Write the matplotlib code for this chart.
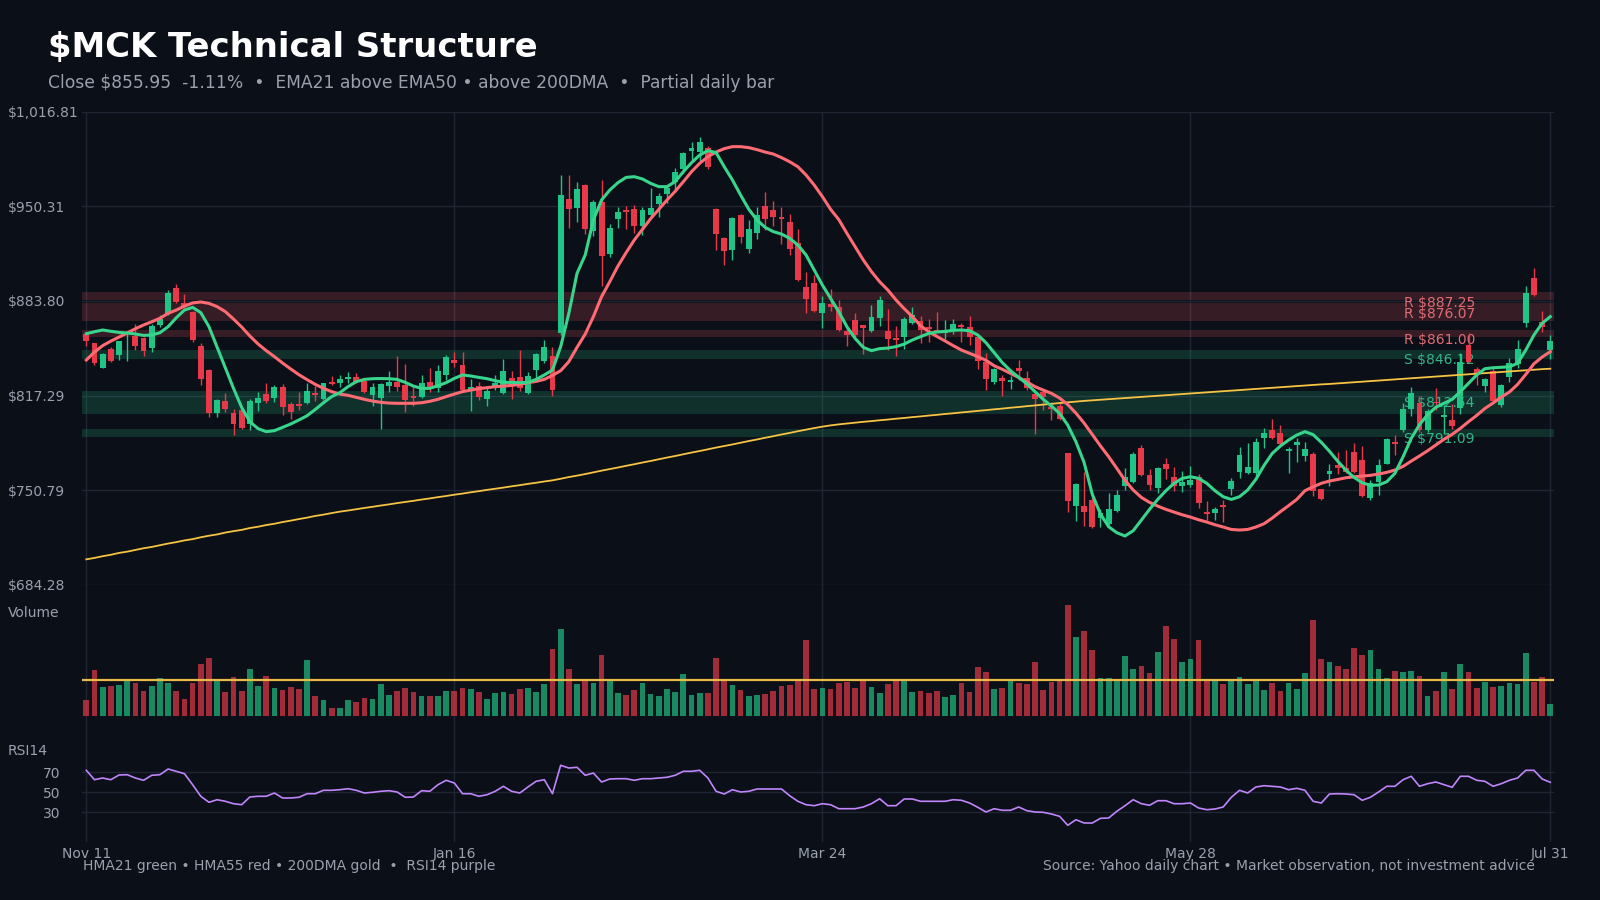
import matplotlib
matplotlib.use("Agg")
import matplotlib.pyplot as plt
import numpy as np

# ---- data ----
open_ = [
    860.6, 854.0, 836.9, 850.0, 845.8, 860.3, 859.4, 857.8, 850.7, 867.2,
    874.9, 892.9, 882.1, 876.3, 852.1, 835.3, 805.1, 813.5, 805.1, 807.2,
    797.3, 812.3, 818.4, 815.8, 823.6, 811.4, 811.4, 812.3, 818.9, 814.7,
    826.8, 825.9, 829.2, 830.4, 827.6, 817.7, 815.6, 824.3, 826.8, 824.8,
    817.0, 816.5, 826.8, 822.4, 831.8, 842.3, 838.8, 821.7, 824.0, 815.1,
    823.6, 818.9, 829.9, 830.6, 819.4, 835.3, 841.8, 845.1, 861.5, 955.4,
    949.3, 965.3, 932.9, 953.3, 916.8, 941.4, 947.7, 948.4, 936.4, 944.2,
    951.9, 958.9, 967.4, 976.5, 989.4, 988.4, 991.0, 948.4, 928.3, 919.6,
    944.2, 920.5, 931.3, 950.5, 947.9, 942.5, 939.2, 924.7, 893.6, 896.4,
    875.6, 881.7, 879.3, 862.9, 870.4, 866.9, 862.9, 872.0, 862.9, 857.8,
    858.7, 868.1, 869.7, 865.5, 863.4, 861.0, 862.9, 866.9, 865.3, 858.2,
    841.1, 827.1, 829.4, 826.8, 836.7, 829.4, 818.4, 820.1, 809.5, 810.0,
    776.7, 739.7, 739.7, 744.0, 731.6, 727.1, 736.5, 753.8, 756.8, 780.2,
    761.5, 752.6, 769.2, 759.9, 753.8, 754.5, 760.4, 735.8, 735.1, 740.4,
    751.5, 763.9, 763.2, 762.7, 787.3, 793.1, 790.8, 778.6, 782.6, 774.9,
    776.3, 751.4, 762.2, 768.6, 766.7, 777.9, 772.0, 745.1, 756.8, 769.3,
    784.7, 793.1, 807.6, 811.9, 793.1, 813.0, 802.5, 800.2, 808.3, 852.8,
    835.8, 824.0, 834.6, 810.7, 830.1, 839.5, 868.5, 899.7, 869.2, 849.3,
]
high = [
    861.0, 854.5, 847.0, 851.7, 855.8, 862.0, 867.6, 858.5, 867.5, 873.9,
    891.5, 895.7, 888.7, 877.0, 854.0, 836.0, 815.0, 818.9, 807.6, 808.0,
    815.0, 820.1, 825.9, 824.8, 825.2, 813.0, 820.1, 825.9, 824.3, 826.5,
    831.1, 831.5, 834.1, 832.9, 828.2, 825.9, 826.1, 834.6, 845.1, 839.5,
    823.6, 831.5, 836.7, 838.8, 845.8, 848.2, 848.2, 828.7, 827.1, 823.6,
    831.5, 843.0, 834.8, 849.3, 833.7, 847.5, 856.4, 851.2, 972.3, 972.3,
    967.4, 965.9, 954.7, 968.8, 937.9, 950.0, 950.5, 951.2, 949.6, 962.9,
    959.4, 965.3, 977.4, 988.7, 995.4, 999.2, 992.6, 949.0, 929.0, 942.5,
    944.9, 940.7, 950.0, 960.6, 954.2, 949.6, 944.9, 934.6, 904.1, 902.0,
    887.3, 892.0, 884.5, 865.7, 875.6, 867.1, 881.0, 887.3, 878.1, 866.2,
    872.8, 879.8, 873.2, 870.9, 876.0, 870.4, 870.9, 868.1, 873.2, 858.7,
    847.0, 836.5, 831.8, 831.1, 842.3, 834.8, 819.0, 821.7, 813.0, 812.3,
    777.2, 756.1, 763.9, 747.5, 737.4, 748.6, 751.0, 766.2, 777.9, 782.6,
    765.5, 767.4, 773.2, 767.4, 764.6, 767.9, 762.2, 743.3, 739.3, 744.0,
    759.2, 781.4, 783.8, 787.3, 794.3, 800.6, 796.6, 781.4, 787.3, 784.9,
    777.9, 752.0, 769.2, 777.9, 779.1, 784.2, 781.9, 758.0, 772.5, 787.3,
    789.6, 811.9, 823.6, 817.0, 807.6, 822.4, 810.7, 811.2, 847.0, 861.0,
    837.2, 829.4, 836.5, 825.4, 843.5, 856.4, 894.3, 906.7, 877.0, 859.9,
]
low = [
    852.1, 838.8, 836.5, 841.1, 842.3, 841.9, 849.3, 845.1, 848.2, 865.8,
    874.0, 882.5, 879.0, 855.2, 824.7, 802.5, 802.5, 806.0, 789.6, 794.0,
    793.1, 806.7, 811.9, 813.0, 803.7, 800.9, 807.2, 811.4, 813.7, 814.2,
    825.0, 823.6, 825.9, 825.9, 818.9, 810.0, 794.1, 820.1, 820.8, 806.0,
    810.0, 815.5, 820.1, 820.0, 828.3, 837.6, 820.8, 806.7, 814.2, 810.0,
    821.0, 818.4, 814.7, 820.8, 818.5, 828.3, 840.0, 817.0, 860.0, 935.3,
    939.2, 931.1, 929.4, 894.5, 914.9, 935.3, 934.3, 931.8, 930.1, 943.0,
    943.0, 952.8, 960.6, 973.4, 982.8, 980.5, 976.2, 919.6, 909.1, 912.6,
    924.7, 917.7, 927.3, 933.6, 936.4, 923.8, 916.3, 898.0, 875.6, 876.3,
    864.6, 877.0, 862.9, 852.1, 858.2, 846.5, 862.2, 866.4, 849.3, 845.1,
    849.8, 867.6, 854.5, 855.2, 862.0, 856.8, 860.6, 855.2, 853.1, 835.8,
    821.3, 825.4, 817.0, 822.2, 828.3, 821.3, 790.3, 807.2, 800.2, 800.2,
    735.8, 729.4, 725.7, 724.0, 724.7, 726.4, 735.8, 751.0, 756.1, 760.8,
    751.0, 749.1, 758.5, 750.5, 749.8, 753.3, 738.1, 729.9, 729.9, 728.7,
    747.5, 759.2, 762.2, 759.2, 780.2, 786.6, 781.9, 762.7, 770.9, 771.6,
    746.8, 743.9, 753.8, 762.2, 762.7, 762.7, 745.8, 743.9, 747.5, 769.0,
    775.6, 792.0, 803.0, 792.0, 792.0, 807.2, 790.3, 793.6, 804.4, 840.4,
    824.7, 820.1, 813.0, 809.5, 827.1, 836.5, 865.3, 887.3, 862.2, 842.8,
]
close = [
    855.9, 840.4, 846.5, 841.8, 855.6, 861.0, 852.1, 848.9, 866.2, 870.9,
    889.4, 883.3, 879.8, 856.4, 829.0, 805.1, 814.2, 807.9, 797.3, 794.8,
    813.5, 815.8, 813.7, 823.6, 809.5, 806.0, 810.0, 820.5, 817.7, 825.9,
    825.4, 828.7, 830.6, 826.8, 820.1, 823.6, 825.4, 826.8, 823.6, 814.2,
    815.6, 825.9, 823.6, 834.6, 844.2, 840.4, 821.3, 823.6, 816.5, 820.8,
    826.1, 834.6, 825.9, 822.4, 831.1, 846.5, 851.2, 821.3, 958.2, 948.4,
    962.4, 934.6, 953.3, 915.4, 935.0, 946.3, 946.3, 936.4, 947.7, 948.9,
    957.5, 962.9, 974.1, 987.7, 991.2, 995.4, 978.1, 931.1, 919.1, 942.1,
    928.5, 934.3, 944.2, 941.1, 943.0, 941.6, 920.1, 898.5, 885.2, 877.0,
    882.4, 879.8, 863.4, 859.9, 859.9, 865.0, 872.3, 884.5, 856.8, 856.4,
    870.9, 873.9, 863.4, 864.1, 862.0, 862.9, 867.6, 865.3, 858.7, 841.8,
    829.0, 836.0, 827.8, 828.2, 834.8, 822.4, 815.1, 816.1, 807.6, 801.1,
    743.5, 755.2, 735.8, 725.2, 734.6, 737.4, 747.5, 760.4, 776.3, 761.5,
    754.5, 766.7, 766.0, 753.8, 756.8, 758.0, 742.1, 734.1, 737.4, 739.3,
    757.3, 775.6, 766.9, 784.9, 790.8, 787.3, 783.3, 779.8, 785.0, 779.5,
    750.5, 744.5, 764.6, 766.7, 763.9, 763.9, 746.8, 755.7, 768.6, 786.6,
    783.3, 807.6, 818.9, 793.1, 806.5, 811.9, 803.7, 796.0, 841.1, 841.1,
    833.0, 828.7, 813.7, 824.8, 840.0, 849.8, 889.1, 888.2, 865.55, 855.95,
]
hma21 = [
    860.8, 862.2, 863.4, 862.5, 861.7, 861.3, 860.6, 859.6, 859.9, 861.5,
    865.7, 872.0, 877.4, 879.3, 875.6, 865.7, 851.2, 836.5, 822.4, 809.0,
    799.0, 794.1, 792.0, 792.7, 795.0, 797.4, 800.2, 803.2, 807.6, 812.3,
    816.6, 819.4, 823.6, 827.1, 828.7, 829.2, 829.3, 829.2, 828.7, 826.6,
    824.0, 822.4, 822.4, 824.3, 826.4, 829.4, 831.8, 831.1, 830.1, 829.2,
    827.8, 826.6, 826.6, 826.4, 826.6, 828.7, 831.8, 835.3, 851.7, 875.1,
    903.2, 916.1, 940.7, 954.7, 961.7, 966.9, 970.6, 971.1, 969.5, 966.4,
    964.1, 964.1, 967.6, 974.6, 980.9, 986.3, 989.4, 988.0, 978.1, 968.8,
    958.2, 948.2, 940.7, 935.5, 932.5, 930.8, 927.8, 923.1, 916.1, 905.5,
    895.0, 885.6, 876.3, 865.7, 857.5, 851.2, 848.9, 850.3, 850.7, 851.7,
    853.5, 856.4, 858.7, 861.0, 862.0, 862.4, 863.2, 863.4, 862.9, 859.9,
    854.5, 847.5, 840.5, 834.8, 830.1, 825.5, 820.1, 814.7, 810.0, 804.8,
    796.6, 784.9, 770.3, 748.0, 734.1, 725.2, 721.0, 718.7, 722.4, 729.9,
    737.4, 744.4, 750.5, 755.7, 759.2, 760.3, 759.2, 755.7, 750.5, 746.3,
    744.4, 746.3, 751.0, 758.5, 768.3, 776.7, 781.9, 786.1, 789.6, 792.0,
    789.9, 784.5, 778.2, 771.3, 765.0, 759.9, 756.1, 754.3, 754.5, 756.8,
    762.7, 774.4, 787.3, 796.9, 803.9, 809.1, 811.9, 814.7, 820.1, 825.9,
    831.8, 836.2, 836.9, 837.2, 837.6, 840.0, 849.3, 859.9, 868.1, 872.8,
]
hma55 = [
    842.3, 847.9, 852.4, 855.6, 858.4, 861.3, 864.3, 866.9, 869.2, 871.6,
    875.1, 877.4, 880.2, 882.4, 883.1, 882.1, 879.8, 876.3, 871.1, 865.5,
    859.2, 853.6, 848.9, 844.7, 840.2, 836.0, 832.0, 828.5, 825.2, 822.4,
    820.1, 818.4, 817.5, 816.1, 814.7, 813.5, 812.6, 812.1, 811.9, 811.9,
    811.9, 812.3, 813.3, 814.7, 816.6, 818.4, 820.1, 821.2, 822.2, 822.9,
    823.6, 824.0, 824.5, 825.2, 826.4, 827.3, 828.7, 831.5, 834.8, 841.2,
    851.2, 860.5, 872.8, 886.8, 897.3, 908.3, 917.7, 926.6, 934.1, 941.6,
    948.2, 954.7, 960.8, 967.6, 974.6, 980.5, 985.1, 988.4, 990.8, 992.2,
    992.2, 991.5, 990.1, 988.4, 987.0, 984.5, 981.6, 978.1, 972.3, 965.2,
    957.1, 948.2, 941.0, 931.3, 921.9, 912.6, 904.4, 897.3, 891.5, 884.5,
    878.4, 872.8, 866.4, 862.2, 858.9, 855.7, 852.4, 849.3, 847.0, 844.7,
    842.1, 838.3, 835.8, 832.9, 830.1, 826.9, 823.6, 821.2, 818.9, 815.6,
    811.0, 805.0, 798.0, 790.0, 782.0, 774.4, 766.2, 757.8, 751.0, 745.8,
    742.3, 739.7, 737.4, 735.5, 733.6, 732.0, 730.1, 728.5, 726.6, 725.0,
    723.3, 722.9, 723.3, 725.0, 727.3, 731.3, 735.8, 740.0, 744.4, 750.5,
    753.3, 755.7, 757.3, 758.4, 759.6, 760.3, 760.8, 761.3, 762.2, 763.4,
    765.0, 767.6, 771.3, 774.9, 778.6, 782.6, 786.6, 790.1, 794.3, 799.0,
    803.4, 808.3, 812.1, 816.3, 819.8, 825.2, 832.2, 839.7, 844.4, 848.2,
]
dma200 = [
    702.3, 703.3, 704.5, 705.5, 706.8, 707.7, 708.9, 710.1, 711.0, 712.2,
    713.4, 714.4, 715.6, 716.5, 717.8, 718.9, 719.8, 721.1, 722.1, 723.0,
    724.3, 725.2, 726.4, 727.3, 728.5, 729.5, 730.6, 731.6, 732.8, 733.7,
    734.8, 735.8, 736.6, 737.5, 738.4, 739.2, 740.1, 740.9, 741.8, 742.6,
    743.4, 744.3, 745.1, 746.0, 746.8, 747.7, 748.5, 749.4, 750.2, 751.1,
    751.9, 752.7, 753.6, 754.4, 755.3, 756.1, 757.0, 757.8, 758.9, 760.1,
    761.1, 762.2, 763.4, 764.6, 765.7, 766.8, 768.0, 769.1, 770.3, 771.4,
    772.6, 773.8, 774.9, 776.1, 777.3, 778.4, 779.6, 780.8, 781.9, 783.0,
    784.2, 785.4, 786.5, 787.7, 788.8, 790.0, 791.1, 792.3, 793.4, 794.5,
    795.5, 796.4, 797.1, 797.7, 798.3, 798.9, 799.4, 800.0, 800.5, 801.1,
    801.6, 802.2, 802.7, 803.3, 803.8, 804.4, 804.9, 805.5, 806.0, 806.6,
    807.1, 807.7, 808.2, 808.8, 809.3, 809.9, 810.4, 811.0, 811.5, 812.1,
    812.6, 813.1, 813.6, 814.0, 814.4, 814.8, 815.2, 815.6, 816.0, 816.4,
    816.8, 817.2, 817.6, 818.0, 818.4, 818.8, 819.2, 819.6, 820.0, 820.4,
    820.8, 821.2, 821.6, 822.0, 822.4, 822.8, 823.2, 823.6, 824.0, 824.4,
    824.8, 825.2, 825.5, 825.9, 826.3, 826.7, 827.1, 827.5, 827.9, 828.3,
    828.7, 829.1, 829.5, 829.9, 830.3, 830.7, 831.1, 831.5, 831.9, 832.3,
    832.7, 833.1, 833.5, 833.9, 834.3, 834.7, 835.1, 835.5, 835.9, 836.2,
]
# volume in 10k shares
volume = [
    47, 137, 86, 89, 92, 107, 98, 74, 89, 113,
    98, 74, 50, 98, 155, 173, 107, 71, 116, 74,
    140, 89, 119, 83, 77, 86, 80, 167, 59, 47,
    23, 23, 47, 41, 53, 50, 95, 62, 74, 83,
    71, 59, 59, 59, 74, 74, 83, 80, 71, 50,
    68, 71, 65, 80, 83, 71, 95, 200, 260, 140,
    95, 107, 98, 182, 107, 68, 62, 77, 98, 65,
    59, 80, 71, 125, 62, 68, 68, 173, 107, 92,
    77, 59, 62, 65, 74, 89, 92, 107, 227, 80,
    83, 80, 98, 101, 83, 107, 86, 68, 95, 107,
    107, 71, 74, 68, 74, 56, 62, 98, 71, 146,
    131, 80, 83, 107, 98, 95, 161, 77, 101, 107,
    332, 236, 254, 197, 113, 113, 107, 179, 140, 149,
    128, 191, 269, 230, 161, 170, 227, 107, 107, 95,
    107, 116, 95, 107, 77, 98, 74, 98, 80, 128,
    287, 170, 161, 149, 140, 203, 182, 197, 140, 113,
    134, 131, 134, 119, 59, 74, 131, 80, 155, 131,
    83, 101, 86, 89, 98, 95, 188, 101, 116, 35,
]
avg_volume = 107
rsi14 = [
    71.7, 62.3, 64.0, 62.3, 67.0, 67.3, 64.0, 61.7, 66.7, 67.3,
    73.0, 70.7, 68.3, 57.3, 45.7, 39.7, 42.3, 40.7, 38.3, 37.3,
    45.0, 45.7, 45.7, 49.0, 44.0, 44.0, 44.7, 48.3, 48.3, 51.7,
    51.7, 52.3, 53.3, 51.7, 49.0, 49.7, 50.7, 51.3, 50.0, 44.7,
    45.0, 51.3, 50.7, 57.3, 61.7, 59.0, 48.3, 48.3, 45.7, 47.3,
    50.7, 55.7, 50.7, 49.0, 55.0, 60.7, 62.3, 48.3, 76.7, 74.0,
    74.7, 66.7, 69.0, 60.0, 63.0, 63.3, 63.3, 61.7, 63.3, 63.3,
    64.0, 64.7, 66.7, 70.7, 70.7, 71.7, 64.0, 50.7, 48.0, 52.3,
    50.0, 50.7, 53.0, 53.0, 53.0, 53.0, 46.3, 40.7, 37.3, 36.3,
    38.3, 37.3, 33.3, 33.3, 33.3, 35.0, 38.3, 43.3, 36.3, 36.3,
    43.0, 43.0, 40.7, 40.7, 40.7, 40.7, 42.3, 41.7, 39.0, 34.7,
    30.0, 33.3, 31.7, 31.7, 35.0, 31.3, 30.0, 29.7, 28.0, 25.7,
    16.7, 22.3, 19.0, 19.0, 23.7, 24.0, 30.7, 36.3, 42.3, 38.3,
    36.7, 41.3, 41.3, 38.3, 38.3, 39.0, 34.0, 32.3, 33.0, 35.0,
    44.7, 51.7, 49.0, 55.0, 56.3, 55.7, 55.0, 52.3, 53.7, 51.7,
    40.7, 39.0, 48.0, 48.3, 48.0, 47.3, 41.7, 44.7, 50.0, 55.7,
    55.7, 62.3, 65.7, 55.7, 58.3, 60.0, 57.3, 54.7, 65.7, 65.7,
    61.7, 60.7, 55.7, 58.3, 61.7, 64.0, 71.7, 71.7, 63.0, 59.7,
]
resistance = [887.25, 876.07, 861.00]
resistance_halfwidth = [2.8, 6.0, 2.7]
resistance_label_y = [882.1, 874.4, 856.1]
support = [846.12, 812.54, 791.09]
support_halfwidth = [3.4, 8.3, 2.7]
support_label_y = [842.3, 812.3, 786.8]

price_lim = (684.279, 1016.814)
price_ticklabels = ["\\$684.28", "\\$750.79", "\\$817.29", "\\$883.80", "\\$950.31", "\\$1,016.81"]
date_tick_pos = [0, 45, 90, 135, 179]
date_ticklabels = ["Nov 11", "Jan 16", "Mar 24", "May 28", "Jul 31"]
rsi_ticks = [30, 50, 70]

# ---- style ----
BG = "#0b0f17"
GRID = "#1f2533"
TXT = "#9aa1ad"
UP = "#20c486"
DN = "#e8394a"

plt.rcParams["font.family"] = ["DejaVu Sans"]

open_ = np.array(open_)
close = np.array(close)
x = np.arange(len(close))
up = close >= open_
colors = np.where(up, UP, DN)

fig = plt.figure(figsize=(16, 9), dpi=100, facecolor=BG)
L, W = 82.2 / 1600, 1472.2 / 1600
ax = fig.add_axes([L, 1 - 585 / 900, W, (585 - 111.6) / 900])
axv = fig.add_axes([L, 1 - 742 / 900, W, (742 - 585) / 900], sharex=ax)
axr = fig.add_axes([L, 1 - 842 / 900, W, 100 / 900], sharex=ax)

for a in (ax, axv, axr):
    a.set_facecolor(BG)
    for s in a.spines.values():
        s.set_visible(False)
    a.set_axisbelow(True)
    a.set_xticks(date_tick_pos)
    a.grid(True, axis="x", color=GRID, lw=1)
    a.tick_params(axis="both", length=0, labelsize=10, labelcolor=TXT)

ax.set_xlim(-0.5, len(x) - 0.5)

# price panel: zones, labels, candles, averages
for lvl, hw in zip(resistance, resistance_halfwidth):
    ax.axhspan(lvl - hw, lvl + hw, color="#ff5f6a", alpha=0.18, lw=0, zorder=1)
for lvl, hw in zip(support, support_halfwidth):
    ax.axhspan(lvl - hw, lvl + hw, color="#2ac98c", alpha=0.18, lw=0, zorder=1)
for lvl, ly in zip(resistance, resistance_label_y):
    ax.text(0.898, ly, f"R \\${lvl:.2f}", transform=ax.get_yaxis_transform(),
            color="#e06c75", fontsize=10, va="center", zorder=2)
for lvl, ly in zip(support, support_label_y):
    ax.text(0.898, ly, f"S \\${lvl:.2f}", transform=ax.get_yaxis_transform(),
            color="#36b487", fontsize=10, va="center", zorder=2)

ax.vlines(x, low, high, colors=colors, lw=1.0, zorder=3)
body_lo = np.minimum(open_, close)
body_h = np.maximum(np.abs(close - open_), 0.8)
ax.bar(x, body_h, bottom=body_lo, width=0.72, color=colors, lw=0, zorder=3.1)

ax.plot(x, dma200, color="#f6c344", lw=1.3, zorder=4)
ax.plot(x, hma55, color="#ff6b72", lw=2.2, zorder=4.1)
ax.plot(x, hma21, color="#38d68c", lw=2.2, zorder=4.2)

ax.set_ylim(*price_lim)
ax.set_yticks(np.linspace(price_lim[0], price_lim[1], 6))
ax.set_yticklabels(price_ticklabels)
ax.grid(True, axis="y", color=GRID, lw=1)
ax.tick_params(axis="y", pad=53.4)
for t in ax.get_yticklabels():
    t.set_horizontalalignment("left")
ax.tick_params(axis="x", labelbottom=False)

# volume panel
vmax = max(volume)
axv.bar(x, volume, width=0.7, color=colors, alpha=0.68, lw=0)
axv.axhline(avg_volume, color="#e9b949", lw=1.6)
axv.set_ylim(-0.235 * vmax, 1.18 * vmax)
axv.set_yticks([])
axv.tick_params(axis="x", labelbottom=False)

# rsi panel
axr.plot(x, rsi14, color="#c084fc", lw=1.2)
axr.set_ylim(0, 100)
axr.set_yticks(rsi_ticks)
axr.grid(True, axis="y", color=GRID, lw=1)
axr.tick_params(axis="y", pad=15.8)
axr.set_xticklabels(date_ticklabels)

# text
fig.text(48 / 1600, 1 - 56.7 / 900, "\\$MCK Technical Structure", color="white",
         fontsize=24.4, fontweight="bold", va="baseline")
fig.text(48 / 1600, 1 - 88.3 / 900,
         "Close \\$855.95  -1.11%  \u2022  EMA21 above EMA50 \u2022 above 200DMA  \u2022  Partial daily bar",
         color=TXT, fontsize=12.3, va="baseline")
fig.text(8 / 1600, 1 - 613 / 900, "Volume", color=TXT, fontsize=10, va="center")
fig.text(8 / 1600, 1 - 750.7 / 900, "RSI14", color=TXT, fontsize=10, va="center")
fig.text(82.6 / 1600, 1 - 870 / 900,
         "HMA21 green \u2022 HMA55 red \u2022 200DMA gold  \u2022  RSI14 purple",
         color=TXT, fontsize=10, va="baseline")
fig.text(1534.7 / 1600, 1 - 870 / 900,
         "Source: Yahoo daily chart \u2022 Market observation, not investment advice",
         color=TXT, fontsize=10, va="baseline", ha="right")

fig.savefig("out.png", dpi=100, facecolor=BG)
